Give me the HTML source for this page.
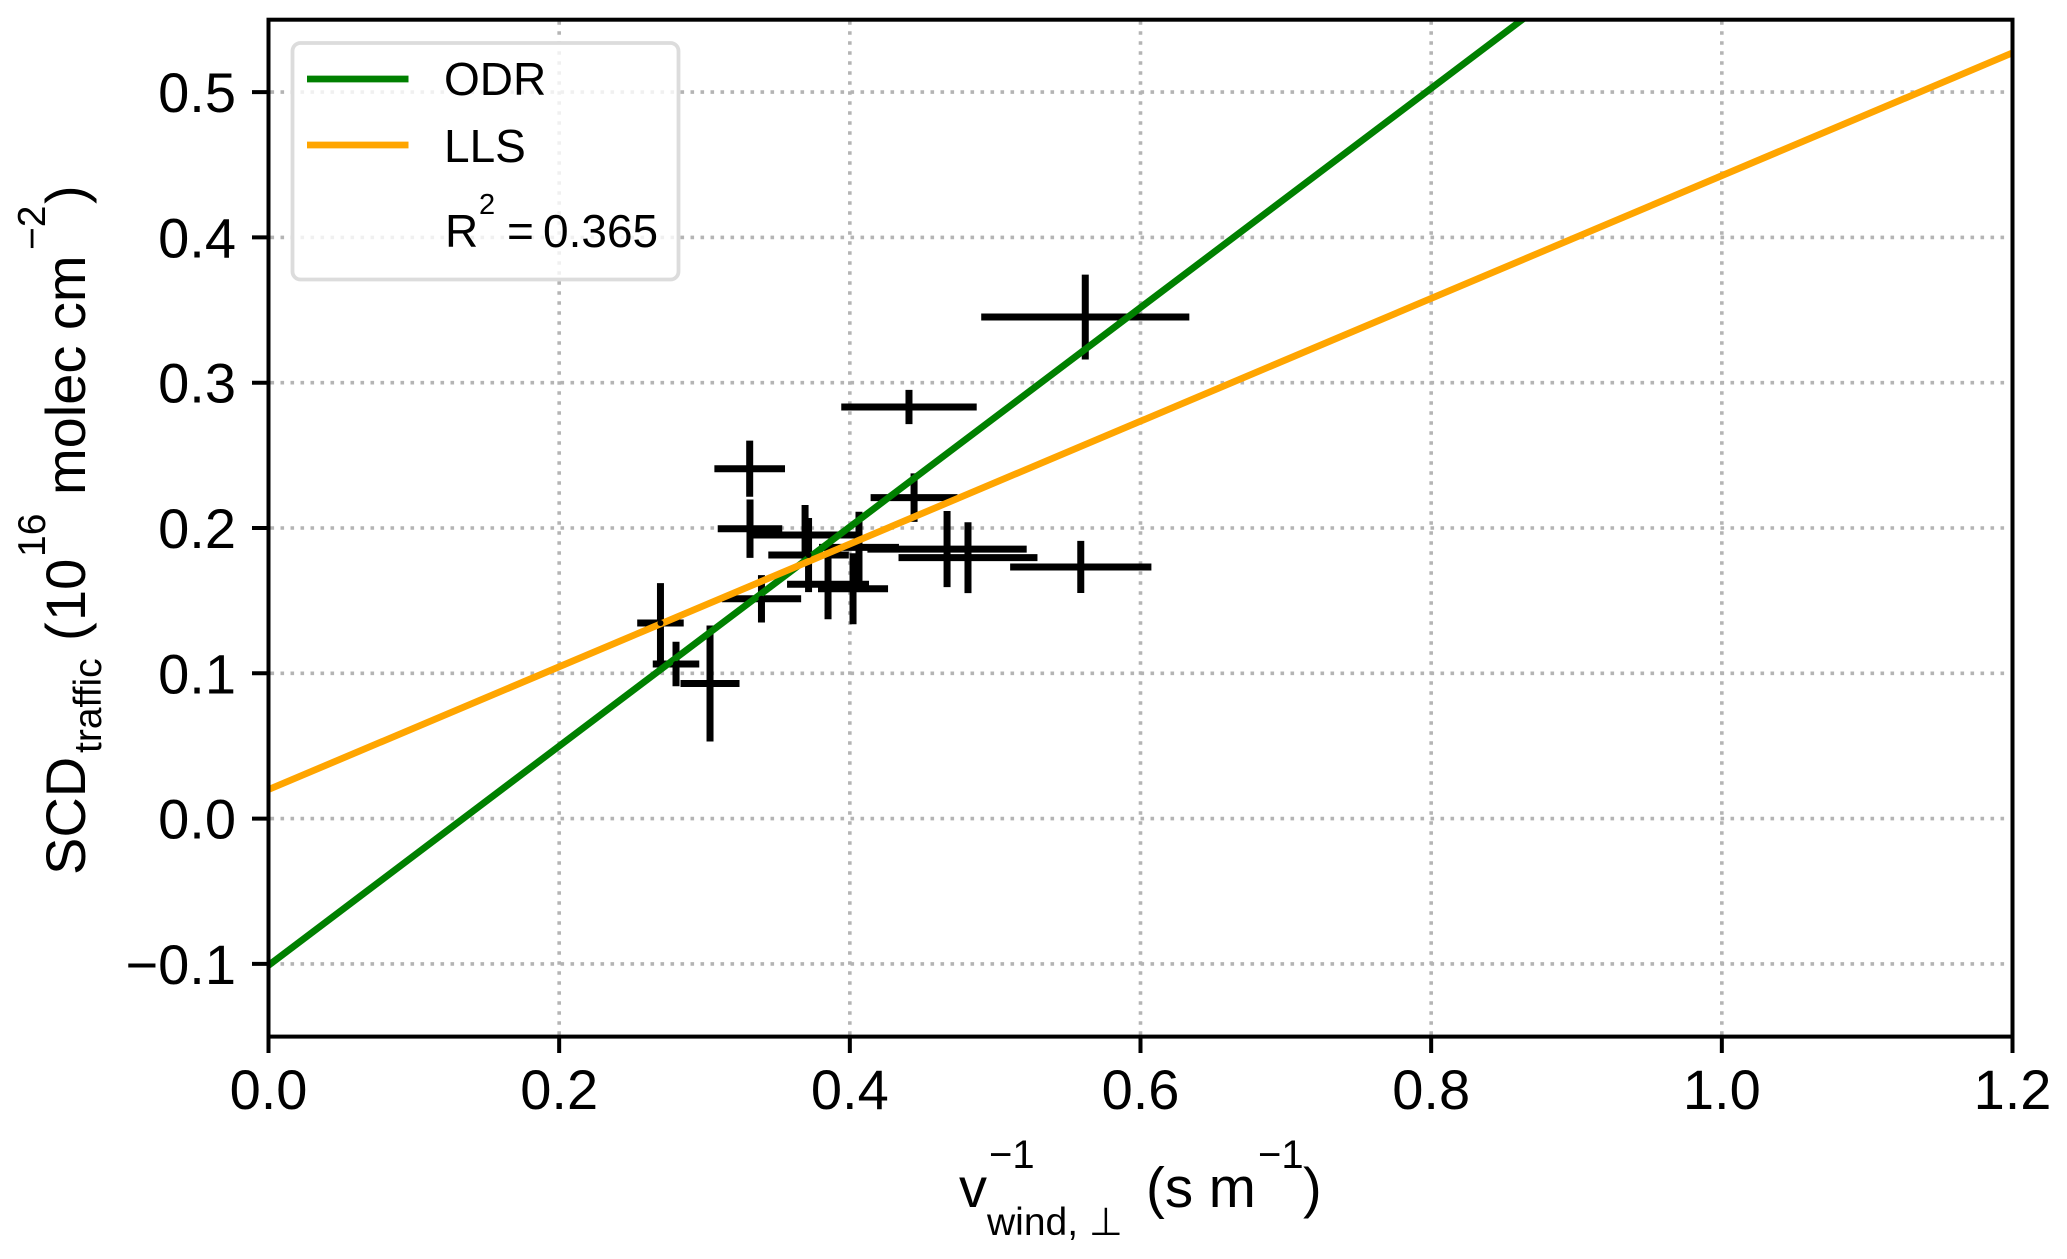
<!DOCTYPE html>
<html>
<head>
<meta charset="utf-8">
<title>SCD traffic vs inverse wind speed</title>
<style>
html,body{margin:0;padding:0;background:#fff;width:2067px;height:1259px;overflow:hidden}
svg{display:block}
text{font-family:"Liberation Sans",sans-serif;fill:#000}
</style>
</head>
<body>
<svg id="chart" xmlns="http://www.w3.org/2000/svg" width="2067" height="1259" viewBox="0 0 2067 1259">
  <rect x="0" y="0" width="2067" height="1259" fill="#fff"/>
  <defs><clipPath id="plot-clip"><rect x="268.5" y="19.7" width="1744" height="1017"/></clipPath></defs>
  <g id="grid"></g>
  <g id="errors"></g>
  <g id="fits" clip-path="url(#plot-clip)"></g>
  <g id="dots"></g>

  <g>
    <rect x="292.5" y="43" width="386" height="236.5" rx="8" ry="8" fill="#fff" fill-opacity="0.8" stroke="#dcdcdc" stroke-width="3.8"/>
    <line x1="307" x2="408.5" y1="79" y2="79" stroke="#008000" stroke-width="6.8"/>
    <text x="444" y="95" font-size="46">ODR</text>
    <line x1="307" x2="408.5" y1="145" y2="145" stroke="#ffa500" stroke-width="6.8"/>
    <text x="444" y="162" font-size="46">LLS</text>
    <g>
      <text x="445" y="247" font-size="46">R</text>
      <text x="479" y="214" font-size="29">2</text>
      <text x="507" y="247" font-size="46">=</text>
      <text x="543" y="247" font-size="46">0.365</text>
    </g>
  </g>

  <rect x="268.5" y="19.7" width="1744" height="1016.9" fill="none" stroke="#000" stroke-width="4"/>
  <g id="xticks"></g>
  <g id="yticks"></g>

  <g>
    <text x="959" y="1207" font-size="56">v</text>
    <text x="989" y="1168" font-size="40">−1</text>
    <text x="987" y="1235" font-size="39">wind, ⊥</text>
    <text x="1146" y="1207" font-size="56.5">(s m</text>
    <text x="1258" y="1168" font-size="40">−1</text>
    <text x="1303" y="1207" font-size="56">)</text>
  </g>

  <g>
    <text transform="translate(85,875) rotate(-90)" font-size="56">SCD</text>
    <text transform="translate(101,753) rotate(-90)" font-size="39">traffic</text>
    <text transform="translate(85,641) rotate(-90)" font-size="56">(</text>
    <text transform="translate(85,621) rotate(-90)" font-size="56">10</text>
    <text transform="translate(45,557) rotate(-90)" font-size="39">16</text>
    <text transform="translate(85,495) rotate(-90)" font-size="56">molec cm</text>
    <text transform="translate(45,250) rotate(-90)" font-size="39">−2</text>
    <text transform="translate(85,204) rotate(-90)" font-size="56">)</text>
  </g>
</svg>
<script>
const xTickValues = [0.0, 0.2, 0.4, 0.6, 0.8, 1.0, 1.2];
const xTickLabels = ["0.0", "0.2", "0.4", "0.6", "0.8", "1.0", "1.2"];
const yTickValues = [-0.1, 0.0, 0.1, 0.2, 0.3, 0.4, 0.5];
const yTickLabels = ["−0.1", "0.0", "0.1", "0.2", "0.3", "0.4", "0.5"];

const pointX = [0.3311, 0.3313, 0.3716, 0.3692, 0.4063, 0.4022, 0.3850, 0.4669, 0.4813, 0.5589, 0.4442, 0.3392, 0.2697, 0.2804, 0.3038, 0.5620, 0.4407];
const pointY = [0.2408, 0.1995, 0.1814, 0.1952, 0.1867, 0.1582, 0.1613, 0.1855, 0.1796, 0.1732, 0.2209, 0.1513, 0.1346, 0.1064, 0.0930, 0.3452, 0.2833];
const pointXErr = [0.0243, 0.0222, 0.0277, 0.0368, 0.0275, 0.0241, 0.0282, 0.0548, 0.0478, 0.0486, 0.0299, 0.0273, 0.0160, 0.0160, 0.0203, 0.0716, 0.0466];
const pointYErr = [0.0193, 0.0201, 0.0255, 0.0206, 0.0245, 0.0244, 0.0241, 0.0262, 0.0244, 0.0179, 0.0167, 0.0163, 0.0275, 0.0153, 0.0399, 0.0292, 0.0118];

const fitX = [0, 1.2];
const odrY = [-0.101, 0.8044];
const llsY = [0.02, 0.527];

const NS = "http://www.w3.org/2000/svg";
function sx(v) { return 268.5 + v * (1744 / 1.2); }
function sy(v) { return 818.6 - v * 1453; }
function make(parent, tag, attrs, txt) {
  const el = document.createElementNS(NS, tag);
  for (const k in attrs) el.setAttribute(k, attrs[k]);
  if (txt !== undefined) el.textContent = txt;
  document.getElementById(parent).appendChild(el);
  return el;
}

xTickValues.forEach(function (v, i) {
  const px = sx(v);
  if (i > 0 && i < xTickValues.length - 1) {
    const g = make("grid", "line", {x1: px, x2: px, y1: 1034.8, y2: 21.5, stroke: "#b4b4b4", "stroke-width": 3.6, "stroke-dasharray": "3.6 6.4"});
    
    
  }
  const t = make("xticks", "line", {x1: px, x2: px, y1: 1036.6, y2: 1053, stroke: "#000", "stroke-width": 4});
  
  
  const l = make("xticks", "text", {x: px, y: 1109, "font-size": 56, "text-anchor": "middle"}, xTickLabels[i]);
  
  
});

yTickValues.forEach(function (v, i) {
  const py = sy(v);
  const g = make("grid", "line", {x1: 270.5, x2: 2011, y1: py, y2: py, stroke: "#b4b4b4", "stroke-width": 3.6, "stroke-dasharray": "3.6 6.4"});
  
  
  const t = make("yticks", "line", {x1: 252, x2: 268.5, y1: py, y2: py, stroke: "#000", "stroke-width": 4});
  
  
  const l = make("yticks", "text", {x: 236, y: py + 20, "font-size": 56, "text-anchor": "end"}, yTickLabels[i]);
  
  
});

pointX.forEach(function (x, i) {
  const y = pointY[i], xe = pointXErr[i], ye = pointYErr[i];
  const h = make("errors", "line", {x1: sx(x - xe), x2: sx(x + xe), y1: sy(y), y2: sy(y), stroke: "#000", "stroke-width": 7});
  
  
  const v = make("errors", "line", {x1: sx(x), x2: sx(x), y1: sy(y - ye), y2: sy(y + ye), stroke: "#000", "stroke-width": 7});
  
  
  const d = make("dots", "circle", {cx: sx(x), cy: sy(y), r: 3, fill: "#000"});
  
  
});

const odrLine = make("fits", "line", {x1: sx(fitX[0]), x2: sx(fitX[1]), y1: sy(odrY[0]), y2: sy(odrY[1]), stroke: "#008000", "stroke-width": 6.8});


const llsLine = make("fits", "line", {x1: sx(fitX[0]), x2: sx(fitX[1]), y1: sy(llsY[0]), y2: sy(llsY[1]), stroke: "#ffa500", "stroke-width": 6.8});


</script>
</body>
</html>
